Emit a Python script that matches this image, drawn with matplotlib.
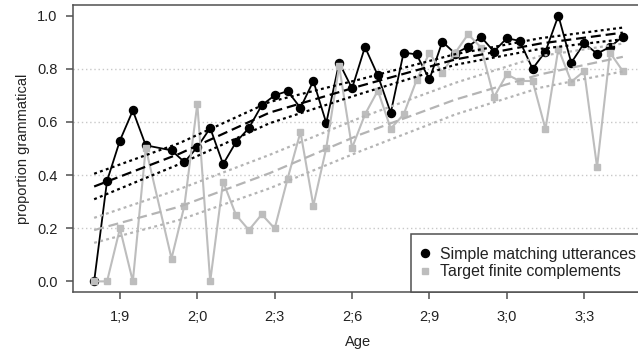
import matplotlib
matplotlib.use("Agg")
import matplotlib.pyplot as plt
from matplotlib.lines import Line2D

plt.rcParams['font.family'] = ['Liberation Sans', 'DejaVu Sans']

# ages in months, one sample every half month (22.5 missing)
age_months = [20, 20.5, 21, 21.5, 22, 23, 23.5, 24, 24.5, 25, 25.5, 26, 26.5,
              27, 27.5, 28, 28.5, 29, 29.5, 30, 30.5, 31, 31.5, 32, 32.5, 33,
              33.5, 34, 34.5, 35, 35.5, 36, 36.5, 37, 37.5, 38, 38.5, 39, 39.5,
              40, 40.5]

simple_matching = [0.0, 0.378, 0.530, 0.643, 0.512, 0.493, 0.449, 0.505, 0.577,
                   0.441, 0.524, 0.577, 0.663, 0.700, 0.716, 0.653, 0.754, 0.596,
                   0.823, 0.726, 0.882, 0.775, 0.634, 0.861, 0.854, 0.760, 0.902,
                   0.857, 0.883, 0.920, 0.865, 0.915, 0.905, 0.800, 0.865, 1.0,
                   0.823, 0.896, 0.857, 0.882, 0.921]

finite_compl = [0.0, 0.0, 0.199, 0.0, 0.502, 0.086, 0.285, 0.668, 0.0, 0.375,
                0.25, 0.193, 0.252, 0.199, 0.386, 0.562, 0.285, 0.502, 0.81,
                0.502, 0.628, 0.718, 0.575, 0.628, 0.757, 0.86, 0.785, 0.86,
                0.93, 0.88, 0.693, 0.779, 0.754, 0.754, 0.573, 0.876, 0.751,
                0.791, 0.43, 0.861, 0.791]

# fitted curves with upper / lower bands, read at a few ages
fit_ages = [20, 23.3, 26.8, 30.3, 34, 37.3, 40.5]
simple_fit = [0.357, 0.48, 0.635, 0.735, 0.835, 0.895, 0.936]
simple_hi = [0.405, 0.52, 0.675, 0.76, 0.855, 0.915, 0.955]
simple_lo = [0.309, 0.441, 0.595, 0.705, 0.815, 0.875, 0.911]
finite_fit = [0.193, 0.281, 0.407, 0.552, 0.684, 0.779, 0.845]
finite_hi = [0.239, 0.347, 0.476, 0.615, 0.747, 0.848, 0.895]
finite_lo = [0.145, 0.231, 0.35, 0.489, 0.628, 0.729, 0.79]

tick_ages = [21, 24, 27, 30, 33, 36, 39]
tick_labels = ['1;9', '2;0', '2;3', '2;6', '2;9', '3;0', '3;3']
y_ticks = [0.0, 0.2, 0.4, 0.6, 0.8, 1.0]

W, H = 638, 353
fig = plt.figure(figsize=(W / 100, H / 100), dpi=100)
# plot region runs a bit past the right edge of the picture
ax = fig.add_axes([73 / W, 1 - 292 / H, (644 - 73) / W, (292 - 5) / H])

black = '#000000'
grey = '#bdbdbd'
fit_grey = '#b4b4b4'
frame = '#505050'

for y in [0.2, 0.4, 0.6, 0.8]:
    ax.axhline(y, color='#c8c8c8', lw=1.0, linestyle=(0, (1, 2)), zorder=1)

ax.plot(age_months, simple_matching, color=black, lw=1.3, marker='o',
        markersize=5.8, zorder=3)
ax.plot(age_months, finite_compl, color=grey, lw=1.5, marker='s',
        markersize=4.6, zorder=4)

ax.plot(fit_ages, finite_fit, color=fit_grey, lw=1.6, dashes=(4.5, 2.2), zorder=5)
ax.plot(fit_ages, finite_hi, color=fit_grey, lw=1.6, dashes=(1.3, 1.5), zorder=5)
ax.plot(fit_ages, finite_lo, color=fit_grey, lw=1.6, dashes=(1.3, 1.5), zorder=5)
ax.plot(fit_ages, simple_fit, color=black, lw=1.6, dashes=(4.5, 2.2), zorder=6)
ax.plot(fit_ages, simple_hi, color=black, lw=1.6, dashes=(1.3, 1.5), zorder=6)
ax.plot(fit_ages, simple_lo, color=black, lw=1.6, dashes=(1.3, 1.5), zorder=6)

ax.set_xlim(19.18, 41.32)
ax.set_ylim(-0.04, 1.04)
ax.set_xticks(tick_ages)
ax.set_xticklabels(tick_labels)
ax.set_yticks(y_ticks)
ax.set_yticklabels([f'{v:.1f}' for v in y_ticks])
ax.tick_params(axis='both', direction='out', length=5, width=1.1,
               color=frame, labelsize=10.5, labelcolor='#222222')
ax.tick_params(axis='x', pad=8)
ax.tick_params(axis='y', pad=6)
for s in ax.spines.values():
    s.set_color(frame)
    s.set_linewidth(1.1)

ax.set_xlabel('Age', fontsize=10.5, color='#222222', labelpad=8)
ax.set_ylabel('proportion grammatical', fontsize=10.5, color='#222222', labelpad=5)

handles = [
    Line2D([], [], color=black, marker='o', linestyle='none', markersize=5.8),
    Line2D([], [], color=grey, marker='s', linestyle='none', markersize=4.6),
]
# right side of the legend box is cut off like the plot box
leg = ax.legend(handles, ['Simple matching utterances', 'Target finite complements'],
                loc='lower right', bbox_to_anchor=(1 + 5 / 571, 0), borderaxespad=0,
                fancybox=False, framealpha=1, edgecolor=frame, fontsize=11.4,
                handlelength=0.1, handletextpad=0.95, borderpad=0.8,
                labelspacing=0.15)
leg.get_frame().set_linewidth(1.1)
leg.set_zorder(10)
for t in leg.get_texts():
    t.set_color('#222222')

fig.savefig('out.png', dpi=100)
